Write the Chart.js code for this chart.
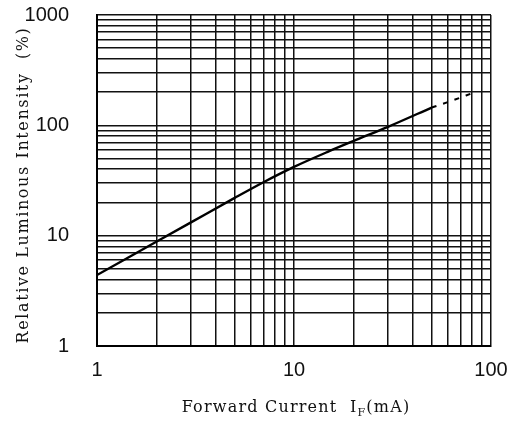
<!DOCTYPE html>
<html>
<head>
<meta charset="utf-8">
<script src="https://cdn.jsdelivr.net/npm/chart.js@4"></script>
<style>
  html, body { margin: 0; padding: 0; background: #fff; }
  #wrap { width: 513px; height: 423px; }
</style>
</head>
<body>
<div id="wrap"><canvas id="chart"></canvas></div>
<script>
// Data
const currentMA = [1, 2, 3, 5, 7, 10, 15, 20, 30, 50];
const intensity = [4.4, 8.8, 13.2, 22, 30.5, 42, 58, 72, 97, 145];
const dashedMA = [50, 65, 80];
const dashedIntensity = [145, 170, 195];

const xTickLabels = [1, 10, 100];
const yTickLabels = [1, 10, 100, 1000];

// log grid values (1..9 per decade)
function logGrid(min, max) {
    const out = [];
    for (let d = min; d < max; d *= 10) {
        for (let m = 1; m < 10; m++) out.push(m * d);
    }
    out.push(max);
    return out;
}

const tickFont = { family: "'Liberation Sans', Arial, sans-serif", size: 20 };
const titleFamily = "'DejaVu Serif', 'Liberation Serif', serif";

// draw a run of text parts (for the subscript), centred on cx
function drawParts(ctx, parts, cx, base, spacing) {
    ctx.letterSpacing = spacing + 'px';
    let total = 0;
    parts.forEach(p => {
        ctx.font = p.size + 'px ' + titleFamily;
        p.w = ctx.measureText(p.t).width;
        total += p.w;
    });
    let x = cx - total / 2;
    parts.forEach(p => {
        ctx.font = p.size + 'px ' + titleFamily;
        ctx.fillText(p.t, x, base + p.dy);
        x += p.w;
    });
}

// axis titles
const titlesPlugin = {
    id: 'axisTitles',
    afterDraw(chart) {
        const ctx = chart.ctx;
        ctx.save();
        ctx.fillStyle = '#111';
        ctx.textBaseline = 'alphabetic';
        ctx.textAlign = 'left';
        drawParts(ctx, [
            { t: 'Forward Current  I', size: 16, dy: 0 },
            { t: 'F', size: 11, dy: 4 },
            { t: '(mA)', size: 16, dy: 0 }
        ], 296, 412, 1.2);

        ctx.translate(28, 185);
        ctx.rotate(-Math.PI / 2);
        drawParts(ctx, [
            { t: 'Relative Luminous Intensity  (%)', size: 16, dy: 0 }
        ], 0, 0, 1.6);
        ctx.restore();
    }
};

function noPad(scale) {
    scale.paddingTop = 0;
    scale.paddingBottom = 0;
    scale.paddingLeft = 0;
    scale.paddingRight = 0;
}

const ctx = document.getElementById('chart').getContext('2d');
new Chart(ctx, {
    type: 'line',
    data: {
        datasets: [{
            data: currentMA.map((x, i) => ({ x: x, y: intensity[i] })),
            borderColor: '#000',
            borderWidth: 2.4,
            pointRadius: 0,
            cubicInterpolationMode: 'monotone'
        }, {
            data: dashedMA.map((x, i) => ({ x: x, y: dashedIntensity[i] })),
            borderColor: '#000',
            borderWidth: 2,
            borderDash: [5, 7],
            pointRadius: 0,
            cubicInterpolationMode: 'monotone'
        }]
    },
    options: {
        responsive: true,
        maintainAspectRatio: false,
        animation: false,
        layout: { padding: { top: 15, right: 22, left: 0, bottom: 0 } },
        plugins: {
            legend: { display: false },
            tooltip: { enabled: false }
        },
        scales: {
            x: {
                type: 'logarithmic',
                min: 1,
                max: 100,
                afterBuildTicks: (scale) => {
                    scale.ticks = logGrid(1, 100).map(v => ({ value: v }));
                },
                afterFit: (scale) => { scale.height = 77; noPad(scale); },
                grid: { color: '#111', lineWidth: 1.5, drawTicks: false },
                border: { color: '#000', width: 2 },
                ticks: {
                    autoSkip: false,
                    maxRotation: 0,
                    padding: 12,
                    color: '#111',
                    font: tickFont,
                    callback: (v) => xTickLabels.includes(v) ? String(v) : ''
                }
            },
            y: {
                type: 'logarithmic',
                min: 1,
                max: 1000,
                afterBuildTicks: (scale) => {
                    scale.ticks = logGrid(1, 1000).map(v => ({ value: v }));
                },
                afterFit: (scale) => { scale.width = 97; noPad(scale); },
                grid: { color: '#111', lineWidth: 1.5, drawTicks: false },
                border: { color: '#000', width: 2 },
                ticks: {
                    autoSkip: false,
                    padding: 28,
                    color: '#111',
                    font: tickFont,
                    callback: (v) => yTickLabels.includes(v) ? String(v) : ''
                }
            }
        }
    },
    plugins: [titlesPlugin]
});
</script>
</body>
</html>
